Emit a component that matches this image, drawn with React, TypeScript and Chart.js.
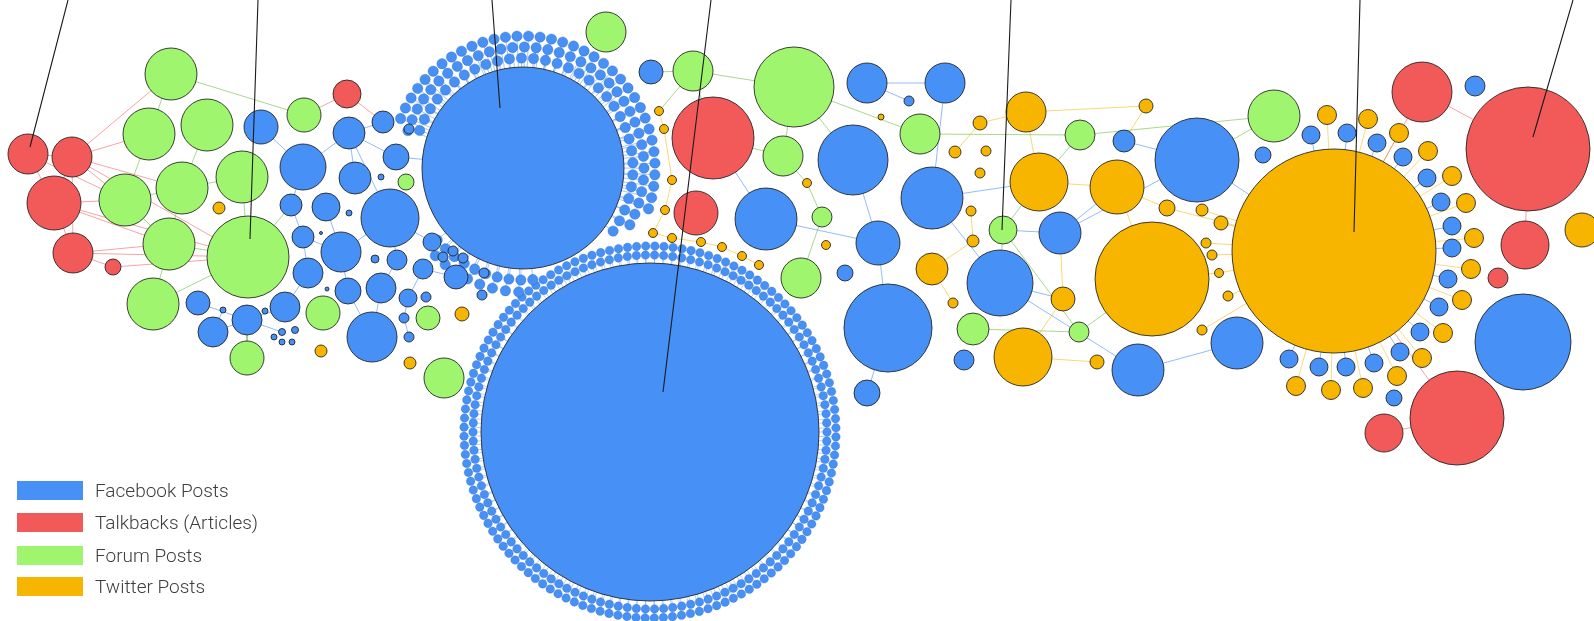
import React, { useEffect, useRef } from "react";
import { Chart, registerables } from "chart.js";
Chart.register(...registerables);

type N = [string, number, number, number]; // id, x, y, size

const facebookNodes: N[] = [
  ["b1", 523, 168, 101], ["b2", 650, 432, 169],
  ["b3", 261, 127, 17], ["b4", 303, 167, 23], ["b5", 349, 133, 16], ["b6", 383, 122, 11],
  ["b7", 355, 178, 16], ["b8", 396, 157, 13], ["b9", 381, 177, 3], ["b10", 291, 205, 11],
  ["b11", 326, 207, 14], ["b12", 349, 213, 3], ["b13", 390, 218, 29], ["b14", 303, 237, 11],
  ["b15", 321, 233, 1.5], ["b16", 341, 252, 20], ["b17", 308, 273, 15], ["b18", 375, 259, 4],
  ["b19", 397, 260, 10], ["b20", 432, 242, 9], ["b21", 423, 269, 10], ["b22", 456, 277, 12],
  ["b23", 327, 289, 2], ["b24", 348, 291, 13], ["b25", 381, 288, 15], ["b26", 408, 298, 9],
  ["b27", 426, 297, 5], ["b28", 285, 307, 15], ["b29", 265, 311, 3], ["b30", 372, 337, 25],
  ["b31", 404, 318, 5], ["b32", 409, 337, 5], ["b33", 198, 303, 12], ["b34", 213, 332, 15],
  ["b35", 247, 320, 15], ["b36", 223, 310, 3], ["b37", 282, 332, 3.5], ["b38", 295, 330, 3.5],
  ["b39", 274, 337, 3], ["b40", 282, 342, 3], ["b41", 292, 342, 3], ["b42", 409, 129, 5],
  ["b43", 443, 257, 5], ["b44", 453, 251, 5], ["b45", 463, 258, 5], ["b46", 484, 273, 5],
  ["b47", 482, 295, 5], ["b48", 651, 72, 12], ["b49", 867, 83, 20], ["b50", 909, 101, 5],
  ["b51", 945, 83, 20], ["b52", 853, 160, 35], ["b53", 766, 219, 31], ["b54", 878, 243, 22],
  ["b55", 845, 273, 8], ["b56", 888, 328, 44], ["b57", 867, 393, 13], ["b58", 932, 198, 31],
  ["b59", 1124, 141, 11], ["b60", 1197, 160, 42], ["b61", 1060, 233, 21], ["b62", 1000, 283, 33],
  ["b63", 964, 360, 10], ["b64", 1138, 370, 26], ["b65", 1263, 155, 8], ["b66", 1237, 343, 26],
  ["b67", 1475, 86, 10], ["b68", 1523, 342, 48], ["b69", 1394, 398, 8],
];

const talkbackNodes: N[] = [
  ["r1", 28, 154, 20], ["r2", 72, 157, 20], ["r3", 54, 203, 27], ["r4", 73, 253, 20],
  ["r5", 113, 267, 8], ["r6", 347, 94, 14], ["r7", 713, 138, 41], ["r8", 696, 213, 22],
  ["r9", 1422, 92, 30], ["r10", 1528, 149, 62], ["r11", 1525, 245, 24], ["r12", 1498, 278, 10],
  ["r13", 1457, 418, 47], ["r14", 1384, 433, 19],
];

const forumNodes: N[] = [
  ["g1", 171, 74, 26], ["g2", 149, 134, 26], ["g3", 207, 125, 26], ["g4", 125, 200, 26],
  ["g5", 182, 188, 26], ["g6", 242, 177, 26], ["g7", 169, 244, 26], ["g8", 248, 257, 41],
  ["g9", 153, 304, 26], ["g10", 247, 358, 17], ["g11", 304, 115, 17], ["g12", 406, 182, 8],
  ["g13", 323, 313, 17], ["g14", 428, 318, 12], ["g15", 444, 378, 20], ["g16", 606, 32, 20],
  ["g17", 693, 71, 20], ["g18", 794, 87, 40], ["g19", 783, 156, 20], ["g20", 822, 217, 10],
  ["g21", 801, 278, 20], ["g22", 920, 134, 20], ["g23", 1080, 135, 15], ["g24", 1003, 230, 14],
  ["g25", 973, 329, 16], ["g26", 1079, 332, 10], ["g27", 1274, 116, 26],
];

const twitterNodes: N[] = [
  ["o1", 219, 208, 6], ["o2", 321, 351, 6], ["o3", 410, 363, 6], ["o4", 462, 314, 7],
  ["o5", 659, 111, 4.5], ["o6", 664, 129, 4.5], ["o7", 672, 180, 4.5], ["o8", 665, 210, 4.5],
  ["o9", 653, 233, 4.5], ["o10", 672, 238, 4.5], ["o11", 701, 242, 4.5], ["o12", 722, 247, 4.5],
  ["o13", 742, 256, 4.5], ["o14", 759, 265, 4.5], ["o15", 807, 183, 4.5], ["o16", 826, 245, 4.5],
  ["o17", 881, 117, 3], ["o18", 932, 269, 16], ["o19", 953, 303, 5], ["o20", 1026, 112, 20],
  ["o21", 980, 123, 7], ["o22", 955, 152, 6], ["o23", 986, 151, 5], ["o24", 980, 173, 5],
  ["o25", 971, 211, 5], ["o26", 973, 241, 6], ["o27", 1039, 182, 29], ["o28", 1117, 187, 27],
  ["o29", 1146, 106, 7], ["o30", 1063, 299, 12], ["o31", 1023, 357, 29], ["o32", 1097, 362, 7],
  ["o33", 1152, 279, 57], ["o34", 1167, 208, 8], ["o35", 1202, 210, 6], ["o36", 1221, 223, 7],
  ["o37", 1206, 243, 5], ["o38", 1212, 255, 5], ["o39", 1219, 273, 4.5], ["o40", 1228, 296, 5],
  ["o41", 1202, 330, 5], ["o42", 1334, 251, 102], ["o43", 1582, 230, 17],
];

// leaf posts around the big Twitter hub (o42)
const twitterHubFacebookLeaves: [number, number][] = [
  [1311, 135], [1347, 133], [1377, 143], [1403, 157], [1427, 178], [1441, 202], [1452, 226],
  [1452, 248], [1448, 279], [1439, 307], [1420, 332], [1400, 352], [1374, 363], [1346, 367],
  [1319, 367], [1289, 359],
];
const twitterHubTwitterLeaves: [number, number][] = [
  [1327, 115], [1368, 119], [1399, 133], [1428, 151], [1452, 176], [1466, 203], [1474, 238],
  [1471, 269], [1462, 300], [1443, 333], [1422, 358], [1397, 376], [1363, 388], [1331, 390],
  [1296, 386],
];

// leaf-post counts around the two Facebook hubs: [distance, fromDeg, toDeg, count]
const hub1LeafArcs = [
  [110, -160, 35, 32], [121, -162, 28, 35], [132, -158, 18, 36],
  [112, 85, 140, 10], [124, 92, 135, 8],
];
const hub2LeafArcs = [
  [177, 0, 360, 122], [186, 1.5, 361.5, 128],
];

const blueEdges: [string, string][] = [
  ["b3", "b4"], ["b4", "b5"], ["b5", "b6"], ["b5", "b8"], ["b5", "b13"], ["b5", "b7"],
  ["b4", "b10"], ["b10", "b14"], ["b11", "b16"], ["b14", "b16"], ["b14", "b17"], ["b17", "b28"],
  ["b28", "b35"], ["b35", "b34"], ["b35", "b33"], ["b16", "b13"], ["b16", "b24"], ["b24", "b30"],
  ["b25", "b30"], ["b13", "b19"], ["b19", "b25"], ["b13", "b20"], ["b21", "b22"], ["b21", "b26"],
  ["b26", "b31"], ["b31", "b32"], ["b22", "b46"], ["b8", "b1"], ["b53", "r7"], ["b53", "b54"],
  ["b52", "b54"], ["b54", "b56"], ["b56", "b57"], ["b49", "b51"], ["b49", "b50"], ["b51", "b58"],
  ["b58", "o27"], ["b58", "b62"], ["b61", "g24"], ["b61", "o28"], ["b61", "b60"], ["b62", "b64"],
  ["b64", "b66"], ["b59", "b60"], ["b60", "o42"], ["b62", "o30"], ["b35", "b37"], ["b34", "b36"],
];
const redEdges: [string, string][] = [
  ["r1", "r2"], ["r1", "r3"], ["r2", "r3"], ["r2", "g1"], ["r2", "g2"], ["r2", "g4"], ["r2", "g5"],
  ["r2", "g8"], ["r2", "r4"], ["r3", "g4"], ["r3", "g7"], ["r3", "g8"], ["r3", "r4"], ["r4", "r5"],
  ["r4", "g7"], ["r4", "g8"], ["r5", "g8"], ["r1", "g4"], ["r6", "g11"], ["r6", "b6"],
  ["r9", "r10"], ["r10", "r11"], ["r9", "o42"], ["r13", "o42"], ["r13", "r14"],
];
const greenEdges: [string, string][] = [
  ["g1", "g2"], ["g1", "g11"], ["g2", "g4"], ["g3", "g5"], ["g5", "g4"], ["g5", "g6"], ["g5", "g7"],
  ["g6", "g8"], ["g7", "g8"], ["g7", "g9"], ["g4", "g7"], ["g9", "g8"], ["g8", "b10"], ["b35", "g10"],
  ["g17", "b48"], ["g17", "g18"], ["g17", "r7"], ["g17", "o5"], ["g18", "g19"], ["g18", "g22"],
  ["g18", "b52"], ["r7", "g19"], ["g19", "o15"], ["o15", "g20"], ["g20", "g21"], ["g22", "g23"],
  ["g23", "g27"], ["g24", "o27"], ["g24", "g26"], ["g25", "g26"], ["g26", "o33"], ["g27", "b60"],
  ["g23", "o27"], ["g24", "b62"],
];
const orangeEdges: [string, string][] = [
  ["o5", "o6"], ["o6", "o7"], ["o7", "o8"], ["o8", "o9"], ["o9", "o10"], ["o10", "o11"],
  ["o11", "o12"], ["o12", "o13"], ["o13", "o14"], ["o20", "o21"], ["o21", "o22"], ["o20", "o29"],
  ["o29", "b59"], ["o20", "o27"], ["o27", "o28"], ["o28", "o33"], ["o25", "o26"], ["o26", "o18"],
  ["o18", "o19"], ["o30", "b61"], ["o30", "o31"], ["o31", "o32"], ["o34", "o42"], ["o35", "o42"],
  ["o36", "o42"], ["o37", "o42"], ["o38", "o42"], ["o39", "o42"], ["o40", "o42"], ["o41", "o42"],
  ["o34", "o28"], ["o33", "o39"],
];

// call-out lines from the top edge: [xTop, yTop, xEnd, yEnd]
const calloutLines = [
  [68, 0, 30, 147], [258, 0, 250, 239], [492, 0, 500, 108], [711, 0, 663, 392],
  [1011, 0, 1002, 230], [1360, 0, 1354, 232], [1573, 0, 1533, 137],
];

const legendItems = [
  { label: "Facebook Posts", color: "#4790F5", top: 481 },
  { label: "Talkbacks (Articles)", color: "#F25A5A", top: 513 },
  { label: "Forum Posts", color: "#9FF56E", top: 546 },
  { label: "Twitter Posts", color: "#F7B500", top: 577 },
];

const BLUE = "#4790F5";
const RED = "#F25A5A";
const GREEN = "#9FF56E";
const ORANGE = "#F7B500";

export default function App() {
  const ref = useRef<HTMLCanvasElement>(null);
  useEffect(() => {
    document.body.style.margin = "0";
    document.body.style.overflow = "hidden";
    const all = new Map<string, N>();
    [...facebookNodes, ...talkbackNodes, ...forumNodes, ...twitterNodes].forEach((n) => all.set(n[0], n));
    const hub1 = all.get("b1")!;
    const hub2 = all.get("b2")!;

    const ring = (hub: N, arcs: number[][], r: number) => {
      const pts: { x: number; y: number; r: number }[] = [];
      for (const [d, a0, a1, n] of arcs) {
        const full = Math.abs(a1 - a0) >= 360;
        for (let i = 0; i < n; i++) {
          const t = full ? i / n : i / (n - 1);
          const a = ((a0 + (a1 - a0) * t) * Math.PI) / 180;
          pts.push({ x: hub[1] + d * Math.cos(a), y: hub[2] + d * Math.sin(a), r });
        }
      }
      return pts;
    };
    const sats1 = ring(hub1, hub1LeafArcs, 5.2);
    const sats2 = ring(hub2, hub2LeafArcs, 4.3);
    const oBlue = twitterHubFacebookLeaves.map(([x, y]) => ({ x, y, r: 9 }));
    const oOrange = twitterHubTwitterLeaves.map(([x, y]) => ({ x, y, r: 9.5 }));
    const hubO = all.get("o42")!;

    const seg = (pairs: [string, string][]) => {
      const out: any[] = [];
      for (const [a, b] of pairs) {
        const A = all.get(a)!, B = all.get(b)!;
        out.push({ x: A[1], y: A[2] }, { x: B[1], y: B[2] }, { x: B[1], y: null });
      }
      return out;
    };
    const spokes = (pts: { x: number; y: number }[], hub: N) => {
      const out: any[] = [];
      for (const p of pts) out.push({ x: p.x, y: p.y }, { x: hub[1], y: hub[2] }, { x: hub[1], y: null });
      return out;
    };
    const callouts: any[] = [];
    for (const [x0, y0, x1, y1] of calloutLines) callouts.push({ x: x0, y: y0 }, { x: x1, y: y1 }, { x: x1, y: null });

    const bub = (nodes: N[], color: string, order: number) => ({
      type: "bubble" as const,
      data: nodes.map((n) => ({ x: n[1], y: n[2], r: n[3] })),
      backgroundColor: color,
      borderColor: "rgba(30,30,30,0.85)",
      borderWidth: 1,
      clip: false,
      order,
    });
    const leaf = (pts: any[], color: string, border: string) => ({
      type: "bubble" as const,
      data: pts,
      backgroundColor: color,
      borderColor: border,
      borderWidth: 0.6,
      clip: false,
      order: 2,
    });
    const edge = (data: any[], color: string) => ({
      type: "line" as const,
      data,
      borderColor: color,
      borderWidth: 1,
      pointRadius: 0,
      tension: 0,
      spanGaps: false,
      clip: false,
      order: 5,
    });

    const chart = new Chart(ref.current!, {
      type: "bubble",
      data: {
        datasets: [
          {
            type: "line",
            data: callouts,
            borderColor: "#1a1a1a",
            borderWidth: 1.1,
            pointRadius: 0,
            spanGaps: false,
            clip: false,
            order: 0,
          } as any,
          bub(facebookNodes, BLUE, 1),
          bub(talkbackNodes, RED, 1),
          bub(forumNodes, GREEN, 1),
          bub(twitterNodes, ORANGE, 1),
          leaf(sats1, BLUE, "rgba(40,90,170,0.55)"),
          leaf(sats2, BLUE, "rgba(40,90,170,0.45)"),
          { ...leaf(oBlue, BLUE, "rgba(30,30,30,0.85)"), borderWidth: 1 },
          { ...leaf(oOrange, ORANGE, "rgba(30,30,30,0.85)"), borderWidth: 1 },
          edge(seg(blueEdges), "rgba(71,144,245,0.6)"),
          edge(seg(redEdges), "rgba(242,90,90,0.55)"),
          edge(seg(greenEdges), "rgba(110,190,70,0.6)"),
          edge(seg(orangeEdges), "rgba(247,181,0,0.55)"),
          edge(spokes(sats1, hub1), "rgba(71,144,245,0.5)"),
          edge(spokes(sats2, hub2), "rgba(71,144,245,0.4)"),
          edge(spokes(oBlue, hubO), "rgba(71,144,245,0.6)"),
          edge(spokes(oOrange, hubO), "rgba(247,181,0,0.5)"),
        ] as any,
      },
      options: {
        animation: false,
        responsive: true,
        maintainAspectRatio: false,
        events: [],
        layout: { padding: 0, autoPadding: false },
        plugins: { legend: { display: false }, tooltip: { enabled: false } },
        scales: {
          x: { type: "linear", min: 0, max: 1594, display: false },
          y: { type: "linear", min: 0, max: 621, reverse: true, display: false },
        },
      },
    });
    return () => chart.destroy();
  }, []);

  return (
    <div style={{ position: "relative", width: 1594, height: 621, background: "#fff" }}>
      <div style={{ position: "absolute", left: 0, top: 0, width: 1594, height: 621 }}>
        <canvas ref={ref} />
      </div>
      {legendItems.map((it) => (
        <div
          key={it.label}
          style={{
            position: "absolute",
            left: 17,
            top: it.top,
            height: 19,
            display: "flex",
            alignItems: "center",
            fontFamily: "Roboto, sans-serif",
            fontWeight: 300,
            fontSize: 19,
            color: "#3d3d3d",
            whiteSpace: "nowrap",
          }}
        >
          <span style={{ display: "inline-block", width: 66, height: 19, background: it.color, marginRight: 12 }} />
          <span>{it.label}</span>
        </div>
      ))}
    </div>
  );
}
